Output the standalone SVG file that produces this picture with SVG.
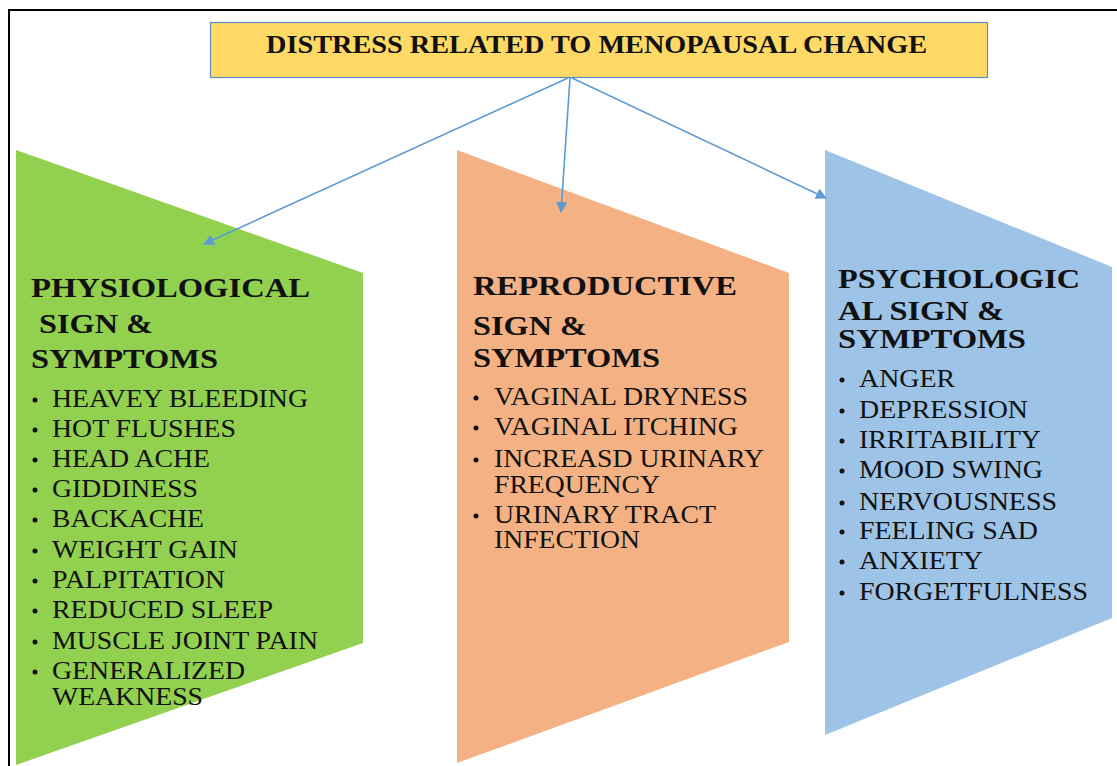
<svg xmlns="http://www.w3.org/2000/svg" width="1117" height="766" viewBox="0 0 1117 766">
<style>
.hd{font-family:"Liberation Serif","Times New Roman",serif;font-weight:bold;font-size:27px;fill:#111}
.it{font-family:"Liberation Serif","Times New Roman",serif;font-size:25px;fill:#111}
.ti{font-family:"Liberation Serif","Times New Roman",serif;font-weight:bold;font-size:25px;fill:#111}
.bu{fill:#111}
.conn{stroke:#5B9BD5;stroke-width:1.6;fill:none}
</style>
<defs>
<marker id="ah" viewBox="0 0 10 10" refX="9" refY="5" markerWidth="13" markerHeight="11" markerUnits="userSpaceOnUse" orient="auto">
<path d="M0,0 L10,5 L0,10 z" fill="#5B9BD5"/>
</marker>
</defs>
<rect width="1117" height="766" fill="#fff"/>
<path d="M9,766 V10 H1117" fill="none" stroke="#000" stroke-width="2"/>

<g id="title">
<rect x="210.5" y="22.5" width="777" height="55" fill="#FFD966" stroke="#5B8BC4" stroke-width="1.2"/>
<text class="ti" x="266" y="53" textLength="661" lengthAdjust="spacingAndGlyphs">DISTRESS RELATED TO MENOPAUSAL CHANGE</text>
</g>

<g id="physiological">
<polygon points="16,150 363,273 363,643 16,765" fill="#92D050"/>
<text class="hd" x="31" y="297" textLength="279" lengthAdjust="spacingAndGlyphs">PHYSIOLOGICAL</text>
<text class="hd" x="39" y="333" textLength="114" lengthAdjust="spacingAndGlyphs">SIGN &amp;</text>
<text class="hd" x="31" y="368" textLength="187" lengthAdjust="spacingAndGlyphs">SYMPTOMS</text>
<g class="bu">
<circle cx="35" cy="400" r="2.5"/><circle cx="35" cy="430" r="2.5"/><circle cx="35" cy="460" r="2.5"/>
<circle cx="35" cy="490" r="2.5"/><circle cx="35" cy="520" r="2.5"/><circle cx="35" cy="551" r="2.5"/>
<circle cx="35" cy="581" r="2.5"/><circle cx="35" cy="611" r="2.5"/><circle cx="35" cy="642" r="2.5"/>
<circle cx="35" cy="672" r="2.5"/>
</g>
<text class="it" x="52" y="407" textLength="256" lengthAdjust="spacingAndGlyphs">HEAVEY BLEEDING</text>
<text class="it" x="52" y="437" textLength="184" lengthAdjust="spacingAndGlyphs">HOT FLUSHES</text>
<text class="it" x="52" y="467" textLength="158" lengthAdjust="spacingAndGlyphs">HEAD ACHE</text>
<text class="it" x="52" y="497" textLength="146" lengthAdjust="spacingAndGlyphs">GIDDINESS</text>
<text class="it" x="52" y="527" textLength="152" lengthAdjust="spacingAndGlyphs">BACKACHE</text>
<text class="it" x="52" y="558" textLength="186" lengthAdjust="spacingAndGlyphs">WEIGHT GAIN</text>
<text class="it" x="52" y="588" textLength="173" lengthAdjust="spacingAndGlyphs">PALPITATION</text>
<text class="it" x="52" y="618" textLength="221" lengthAdjust="spacingAndGlyphs">REDUCED SLEEP</text>
<text class="it" x="52" y="649" textLength="266" lengthAdjust="spacingAndGlyphs">MUSCLE JOINT PAIN</text>
<text class="it" x="52" y="679" textLength="193" lengthAdjust="spacingAndGlyphs">GENERALIZED</text>
<text class="it" x="52" y="705" textLength="151" lengthAdjust="spacingAndGlyphs">WEAKNESS</text>
</g>

<g id="reproductive">
<polygon points="457,150 789,273 789,642 457,763" fill="#F4B183"/>
<text class="hd" x="473" y="295" textLength="264" lengthAdjust="spacingAndGlyphs">REPRODUCTIVE</text>
<text class="hd" x="473" y="335" textLength="114" lengthAdjust="spacingAndGlyphs">SIGN &amp;</text>
<text class="hd" x="473" y="367" textLength="187" lengthAdjust="spacingAndGlyphs">SYMPTOMS</text>
<g class="bu">
<circle cx="476" cy="398" r="2.5"/><circle cx="476" cy="428" r="2.5"/>
<circle cx="476" cy="460" r="2.5"/><circle cx="476" cy="516" r="2.5"/>
</g>
<text class="it" x="494" y="405" textLength="254" lengthAdjust="spacingAndGlyphs">VAGINAL DRYNESS</text>
<text class="it" x="494" y="435" textLength="244" lengthAdjust="spacingAndGlyphs">VAGINAL ITCHING</text>
<text class="it" x="494" y="467" textLength="270" lengthAdjust="spacingAndGlyphs">INCREASD URINARY</text>
<text class="it" x="494" y="493" textLength="166" lengthAdjust="spacingAndGlyphs">FREQUENCY</text>
<text class="it" x="494" y="523" textLength="222" lengthAdjust="spacingAndGlyphs">URINARY TRACT</text>
<text class="it" x="494" y="548" textLength="146" lengthAdjust="spacingAndGlyphs">INFECTION</text>
</g>

<g id="psychological">
<polygon points="825,150 1112,267 1112,618 825,735" fill="#9DC3E6"/>
<text class="hd" x="838" y="288" textLength="242" lengthAdjust="spacingAndGlyphs">PSYCHOLOGIC</text>
<text class="hd" x="838" y="320" textLength="166" lengthAdjust="spacingAndGlyphs">AL SIGN &amp;</text>
<text class="hd" x="838" y="348" textLength="188" lengthAdjust="spacingAndGlyphs">SYMPTOMS</text>
<g class="bu">
<circle cx="842" cy="380" r="2.5"/><circle cx="842" cy="411" r="2.5"/><circle cx="842" cy="441" r="2.5"/>
<circle cx="842" cy="471" r="2.5"/><circle cx="842" cy="503" r="2.5"/><circle cx="842" cy="532" r="2.5"/>
<circle cx="842" cy="562" r="2.5"/><circle cx="842" cy="593" r="2.5"/>
</g>
<text class="it" x="859" y="387" textLength="96" lengthAdjust="spacingAndGlyphs">ANGER</text>
<text class="it" x="859" y="418" textLength="169" lengthAdjust="spacingAndGlyphs">DEPRESSION</text>
<text class="it" x="859" y="448" textLength="182" lengthAdjust="spacingAndGlyphs">IRRITABILITY</text>
<text class="it" x="859" y="478" textLength="184" lengthAdjust="spacingAndGlyphs">MOOD SWING</text>
<text class="it" x="859" y="510" textLength="198" lengthAdjust="spacingAndGlyphs">NERVOUSNESS</text>
<text class="it" x="859" y="539" textLength="179" lengthAdjust="spacingAndGlyphs">FEELING SAD</text>
<text class="it" x="859" y="569" textLength="124" lengthAdjust="spacingAndGlyphs">ANXIETY</text>
<text class="it" x="859" y="600" textLength="229" lengthAdjust="spacingAndGlyphs">FORGETFULNESS</text>
</g>

<g id="connectors">
<line class="conn" x1="568" y1="78" x2="204" y2="244" marker-end="url(#ah)"/>
<line class="conn" x1="570" y1="78" x2="561" y2="212" marker-end="url(#ah)"/>
<line class="conn" x1="572" y1="78" x2="826" y2="198" marker-end="url(#ah)"/>
</g>
</svg>
